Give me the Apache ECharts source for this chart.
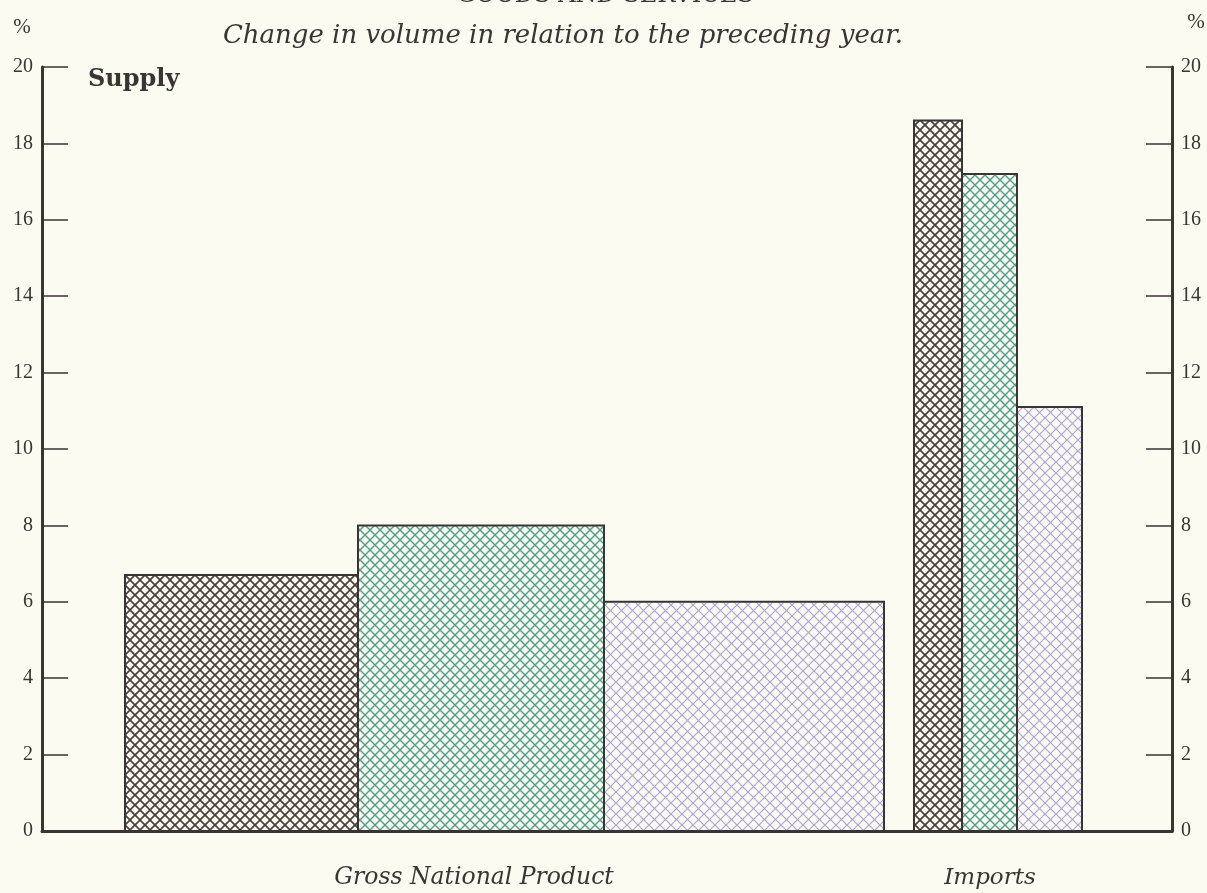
<!DOCTYPE html>
<html>
<head>
<meta charset="utf-8">
<script src="https://cdn.jsdelivr.net/npm/echarts@6/dist/echarts.min.js"></script>
<style>
html,body{margin:0;padding:0;background:#fcfbf1;}
#chart{width:1207px;height:893px;}
</style>
</head>
<body>
<div id="chart"></div>
<script>
// ---- data ----
const categories = ['Gross National Product', 'Imports'];
const seriesNames = ['Year 1', 'Year 2', 'Year 3'];
// % change in volume, per series: [GNP, Imports]
const values1 = [6.7, 18.6];
const values2 = [8.0, 17.2];
const values3 = [6.0, 11.1];
// relative bar widths (weights), per series: [GNP, Imports]
const weights1 = [233, 48];
const weights2 = [246, 55];
const weights3 = [280, 65];
const yTicks = [0, 2, 4, 6, 8, 10, 12, 14, 16, 18, 20];

// ---- layout ----
const LEFT_PAD = 83, GROUP_GAP = 30, X_SPAN = 1130;
const INK = '#3a3434';
const SERIF = '"DejaVu Serif","Liberation Serif",serif';
const SERIF2 = '"Liberation Serif","DejaVu Serif",serif';

function makePattern(color, size, lw) {
  const c = document.createElement('canvas');
  c.width = size; c.height = size;
  const g = c.getContext('2d');
  g.strokeStyle = color; g.lineWidth = lw;
  for (let i = -1; i <= 1; i++) {
    g.beginPath(); g.moveTo(i * size, 0); g.lineTo(i * size + size, size); g.stroke();
    g.beginPath(); g.moveTo(i * size + size, 0); g.lineTo(i * size, size); g.stroke();
  }
  return { image: c, repeat: 'repeat' };
}
const patterns = [
  makePattern('#4a4141', 10, 1.7),
  makePattern('#4f9f89', 10, 1.4),
  makePattern('#aca5da', 11, 1.2)
];

const allValues = [values1, values2, values3];
const allWeights = [weights1, weights2, weights3];

// compute cumulative x extents from weights
const extents = allValues.map(() => []);
let cursor = LEFT_PAD;
categories.forEach((cat, ci) => {
  if (ci > 0) cursor += GROUP_GAP;
  allValues.forEach((vals, si) => {
    const w = allWeights[si][ci];
    extents[si].push([cursor, cursor + w, vals[ci], cat]);
    cursor += w;
  });
});

const series = allValues.map((vals, si) => ({
  type: 'custom',
  name: seriesNames[si],
  xAxisIndex: 0,
  yAxisIndex: 0,
  encode: { x: [0, 1], y: 2 },
  data: extents[si],
  renderItem: function (params, api) {
    const p0 = api.coord([api.value(0), 0]);
    const p1 = api.coord([api.value(1), api.value(2)]);
    return {
      type: 'rect',
      shape: { x: p0[0], y: p1[1], width: p1[0] - p0[0], height: p0[1] - p1[1] },
      style: { fill: patterns[si], stroke: INK, lineWidth: 2 }
    };
  }
}));

const chart = echarts.init(document.getElementById('chart'));
const yAxisCommon = {
  type: 'value', min: 0, max: 20, interval: 2,
  splitLine: { show: false },
  axisLine: { show: true, lineStyle: { color: INK, width: 3 } },
  axisTick: { show: true, inside: true, length: 26, lineStyle: { color: INK, width: 1.5 } },
  axisLabel: { color: '#3a3434', fontFamily: SERIF2, fontSize: 20, margin: 9,
    formatter: v => yTicks.includes(v) ? String(v) : '' }
};
chart.setOption({
  backgroundColor: '#fcfbf1',
  animation: false,
  grid: { left: 42, right: 35, top: 67, bottom: 62 },
  xAxis: {
    type: 'value', min: 0, max: X_SPAN,
    axisLine: { show: true, onZero: false, lineStyle: { color: INK, width: 3 } },
    axisTick: { show: false }, axisLabel: { show: false }, splitLine: { show: false }
  },
  yAxis: [
    Object.assign({}, yAxisCommon, { position: 'left' }),
    Object.assign({}, yAxisCommon, { position: 'right' })
  ],
  series: series,
  graphic: [
    { type: 'text', x: 605, y: -4, style: { text: 'GOODS AND SERVICES', font: '24px ' + SERIF, fill: INK, align: 'center', verticalAlign: 'middle' } },
    { type: 'text', x: 563, y: 36, style: { text: 'Change in volume in relation to the preceding year.', font: 'italic 26px ' + SERIF, fill: INK, align: 'center', verticalAlign: 'middle' } },
    { type: 'text', x: 22, y: 27, style: { text: '%', font: '21px ' + SERIF2, fill: INK, align: 'center', verticalAlign: 'middle' } },
    { type: 'text', x: 1196, y: 22, style: { text: '%', font: '21px ' + SERIF2, fill: INK, align: 'center', verticalAlign: 'middle' } },
    { type: 'text', x: 88, y: 80, style: { text: 'Supply', font: 'bold 24px ' + SERIF, fill: INK, align: 'left', verticalAlign: 'middle' } },
    { type: 'text', x: 474, y: 878, style: { text: categories[0], font: 'italic 23.5px ' + SERIF, fill: INK, align: 'center', verticalAlign: 'middle' } },
    { type: 'text', x: 990, y: 878, style: { text: categories[1], font: 'italic 23px ' + SERIF, fill: INK, align: 'center', verticalAlign: 'middle' } }
  ]
});
</script>
</body>
</html>
